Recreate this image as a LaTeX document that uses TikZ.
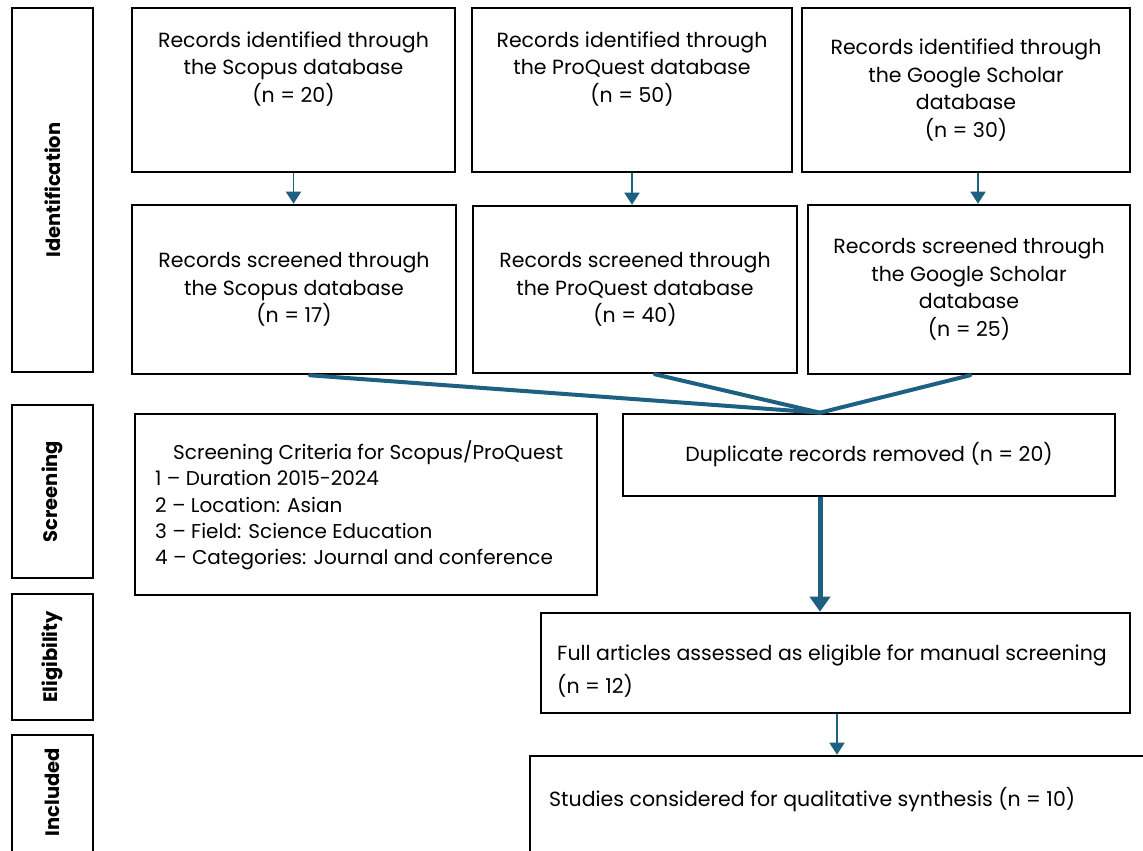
\documentclass[tikz,border=0pt]{standalone}
\usepackage{fontspec}
\setmainfont{Poppins}
\usetikzlibrary{arrows.meta,calc}
\definecolor{flow}{RGB}{30,96,130}
\begin{document}
\begin{tikzpicture}[x=1pt,y=-1pt,
  box/.style={draw=black,line width=2.6pt,inner sep=0pt},
  sidelabel/.style={rotate=90,font=\bfseries\fontsize{19.5}{21}\selectfont},
  txt/.style={font=\fontsize{20.5}{27.5}\selectfont,align=center,inner sep=0pt},
  thinarrow/.style={draw=flow,line width=1.8pt,-{Triangle[width=15pt,length=12pt]}},
  thickarrow/.style={draw=flow,line width=5pt,-{Triangle[width=20pt,length=15pt]}},
  merge/.style={draw=flow,line width=4pt,line cap=round}]
\clip (0,0) rectangle (1143,851);
\fill[white] (0,0) rectangle (1143,851);
% side boxes
\node[box,minimum width=81pt,minimum height=364pt] (sid) at (52.5,190) {};
\node[sidelabel] (sidl) at (sid.center) {Identification};
\node[box,minimum width=81pt,minimum height=173pt] (sscr) at (52.5,491.5) {};
\node[sidelabel] (sscrl) at (sscr.center) {Screening};
\node[box,minimum width=81pt,minimum height=126pt] (selig) at (52.5,657) {};
\node[sidelabel] (seligl) at (selig.center) {Eligibility};
\node[box,minimum width=81pt,minimum height=127pt] (sinc) at (52.5,798.5) {};
\node[sidelabel] (sincl) at (52.5,792) {Included};
% row 1
\node[box,minimum width=323pt,minimum height=164pt] (b1) at (293.5,90) {};
\node[txt] (b1t) at (293.5,69) {Records identified through\\the Scopus database\\(n = 20)};
\node[box,minimum width=320pt,minimum height=164pt] (b2) at (632,90) {};
\node[txt] (b2t) at (632,69) {Records identified through\\the ProQuest database\\(n = 50)};
\node[box,minimum width=328pt,minimum height=164pt,txt] (b3) at (966,90) {Records identified through\\the Google Scholar\\database\\(n = 30)};
% row 2
\node[box,minimum width=324pt,minimum height=169pt,txt] (b4) at (294,289.5) {Records screened through\\the Scopus database\\(n = 17)};
\node[box,minimum width=324pt,minimum height=167pt,txt] (b5) at (635,289.5) {Records screened through\\the ProQuest database\\(n = 40)};
\node[box,minimum width=322pt,minimum height=169pt,txt] (b6) at (969,289.5) {Records screened through\\the Google Scholar\\database\\(n = 25)};
% screening
\node[box,minimum width=462pt,minimum height=181pt] (crit) at (366,504.5) {};
\node[txt,align=left,anchor=west,font=\fontsize{20}{26.25}\selectfont] (critt) at (155,505.5)
  {\hspace*{18pt}Screening Criteria for Scopus/ProQuest\\1 -- Duration 2015-2024\\2 -- Location: Asian\\3 -- Field: Science Education\\4 -- Categories: Journal and conference};
\node[box,minimum width=492pt,minimum height=82pt,txt] (dup) at (869,455) {Duplicate records removed (n = 20)};
% eligibility
\node[box,minimum width=589pt,minimum height=100pt] (full) at (835.5,663) {};
\node[txt,align=left,anchor=west,font=\fontsize{20.5}{33}\selectfont] (fullt) at (557,671.5)
  {Full articles assessed as eligible for manual screening\\(n = 12)};
% included
\node[box,minimum width=620pt,minimum height=114pt] (stud) at (840,813) {};
\node[txt,anchor=west] (studt) at (549,800) {Studies considered for qualitative synthesis (n = 10)};
% connectors
\draw[thinarrow] (b1.south) -- (b1.south |- b4.north);
\draw[thinarrow] (b2.south) -- (b2.south |- b5.north);
\draw[thinarrow] ([xshift=12pt]b3.south) -- ([xshift=12pt]b3.south |- b6.north);
\coordinate (m) at ([xshift=-49pt]dup.north);
\draw[merge] ([xshift=16pt]b4.south) -- (m);
\draw[merge] ([xshift=20pt]b5.south) -- (m);
\draw[merge] ([xshift=1pt]b6.south) -- (m);
\draw[thickarrow] ([xshift=-49pt]dup.south) -- ([xshift=-49pt]dup.south |- full.north);
\draw[thinarrow] ([xshift=1.5pt]full.south) -- ([xshift=1.5pt]full.south |- stud.north);
\end{tikzpicture}
\end{document}
